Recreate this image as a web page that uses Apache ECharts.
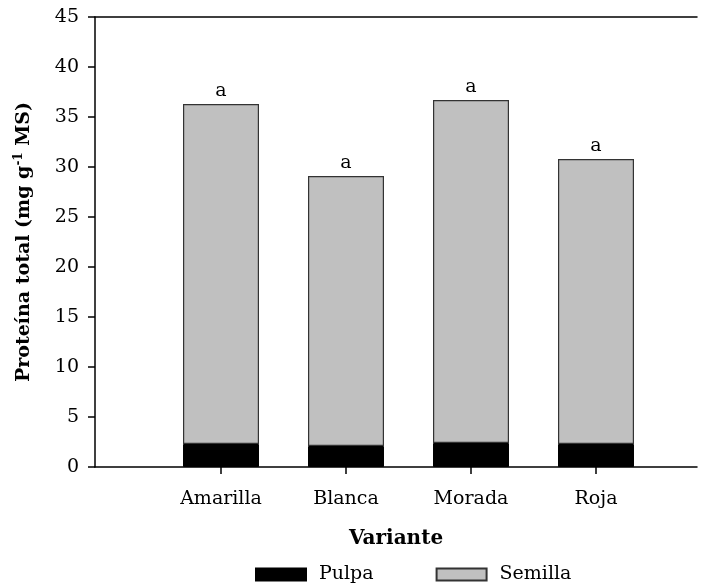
<!DOCTYPE html>
<html>
<head>
<meta charset="utf-8">
<script src="https://cdn.jsdelivr.net/npm/echarts@6/dist/echarts.min.js"></script>
<style>
  html, body { margin: 0; padding: 0; background: #fff; }
  #chart { width: 711px; height: 586px; }
</style>
</head>
<body>
<div id="chart"></div>
<script>
// datos
const variantes = ['Amarilla', 'Blanca', 'Morada', 'Roja'];
const pulpa = [2.3, 2.1, 2.4, 2.3];
const semilla = [34.0, 27.0, 34.3, 28.5];
const letras = ['a', 'a', 'a', 'a'];

const FONT = 'DejaVu Serif';
const LINEA = { color: '#000', width: 1.5 };

const chart = echarts.init(document.getElementById('chart'));

chart.setOption({
  animation: false,
  textStyle: { fontFamily: FONT },
  // grid 0: marco y eje y, grid 1: barras (bandas de 125px)
  grid: [
    { left: 95, right: 14, top: 17, bottom: 119 },
    { left: 158.5, right: 52.5, top: 17, bottom: 119 },
  ],
  legend: {
    left: 250,
    top: 560,
    icon: 'rect',
    itemWidth: 50,
    itemHeight: 12,
    itemGap: 62,
    textStyle: { fontFamily: FONT, fontSize: 19, color: '#000', padding: [0, 0, 0, 8] },
    data: ['Pulpa', 'Semilla'],
  },
  xAxis: [
    {
      gridIndex: 0,
      type: 'value',
      position: 'bottom',
      min: 0,
      max: 1,
      name: 'Variante',
      nameLocation: 'middle',
      nameGap: 62,
      nameTextStyle: { fontFamily: FONT, fontSize: 20, fontWeight: 'bold', color: '#000' },
      splitLine: { show: false },
      axisTick: { show: false },
      axisLabel: { show: false },
      axisLine: { lineStyle: LINEA },
    },
    {
      gridIndex: 0,
      type: 'value',
      position: 'top',
      min: 0,
      max: 1,
      splitLine: { show: false },
      axisTick: { show: false },
      axisLabel: { show: false },
      axisLine: { lineStyle: LINEA },
    },
    {
      gridIndex: 1,
      type: 'category',
      data: variantes,
      axisLine: { show: false },
      axisTick: { show: true, alignWithLabel: true, length: 7, lineStyle: LINEA },
      axisLabel: { margin: 23, fontFamily: FONT, fontSize: 19, color: '#000' },
    },
  ],
  yAxis: [
    {
      gridIndex: 0,
      type: 'value',
      min: 0,
      max: 45,
      interval: 5,
      name: 'Proteína total (mg g{sup|-1} MS)',
      nameLocation: 'middle',
      nameGap: 60,
      nameRotate: 90,
      nameTextStyle: {
        fontFamily: FONT,
        fontSize: 19,
        fontWeight: 'bold',
        color: '#000',
        rich: {
          sup: { fontFamily: FONT, fontSize: 12, fontWeight: 'bold', color: '#000', verticalAlign: 'top', padding: [0, 0, 10, 0] },
        },
      },
      splitLine: { show: false },
      axisLine: { show: true, lineStyle: LINEA },
      axisTick: { show: true, length: 7, lineStyle: LINEA },
      axisLabel: { margin: 16, fontFamily: FONT, fontSize: 19, color: '#000' },
    },
    {
      gridIndex: 1,
      type: 'value',
      min: 0,
      max: 45,
      show: false,
    },
  ],
  series: [
    {
      name: 'Pulpa',
      type: 'bar',
      xAxisIndex: 2,
      yAxisIndex: 1,
      stack: 'total',
      barWidth: 76,
      itemStyle: { color: '#000', borderColor: '#000', borderWidth: 1 },
      data: pulpa,
    },
    {
      name: 'Semilla',
      type: 'bar',
      xAxisIndex: 2,
      yAxisIndex: 1,
      stack: 'total',
      barWidth: 76,
      itemStyle: { color: '#c0c0c0', borderColor: '#333', borderWidth: 1.2 },
      label: {
        show: true,
        position: 'top',
        distance: 3,
        fontFamily: FONT,
        fontSize: 19,
        color: '#000',
        formatter: p => letras[p.dataIndex],
      },
      data: semilla,
    },
  ],
});
</script>
</body>
</html>
